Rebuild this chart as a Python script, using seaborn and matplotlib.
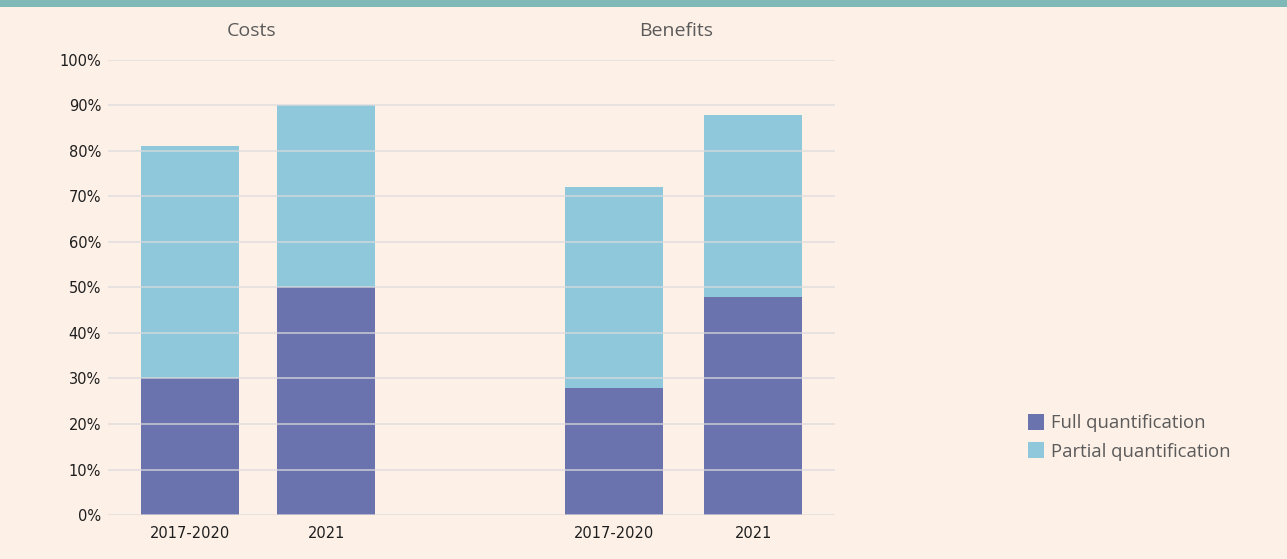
import matplotlib
matplotlib.use("Agg")
import matplotlib.pyplot as plt
from matplotlib.patches import Patch, Rectangle
import seaborn as sns
import pandas as pd

# Share of impact assessments quantifying costs / benefits
groups = ["Costs", "Costs", "Benefits", "Benefits"]
periods = ["2017-2020", "2021", "2017-2020", "2021"]
full_quant = [30, 50, 28, 48]
partial_quant = [51, 40, 44, 40]
y_ticks = [0, 10, 20, 30, 40, 50, 60, 70, 80, 90, 100]
series_names = ["Full quantification", "Partial quantification"]

# bar centres along the x axis, with an empty gap between the two groups
slot = [0, 0.965, 3, 3.985]

BG = "#fdf0e7"
FULL_C = "#6a73ad"
PART_C = "#8ec8da"
GRID_C = "#dcdcdc"
TEXT_C = "#5b5b5b"

df = pd.DataFrame({
    "group": groups,
    "period": periods,
    "slot": slot,
    "full": full_quant,
    "partial": partial_quant,
})
df["total"] = df["full"] + df["partial"]

sns.set_theme(style="white")
plt.rcParams["font.family"] = ["DejaVu Sans"]

fig = plt.figure(figsize=(12.87, 5.59), dpi=100, facecolor=BG)
ax = fig.add_axes([0.0839, 0.0787, 0.5649, 0.814])
ax.set_facecolor(BG)

# stacked bars: full height in the partial colour, full share drawn over it
bar_kw = dict(native_scale=True, width=0.718, saturation=1, ax=ax,
              linewidth=0, edgecolor="none")
sns.barplot(data=df, x="slot", y="total", color=PART_C, zorder=2, **bar_kw)
sns.barplot(data=df, x="slot", y="full", color=FULL_C, zorder=3, **bar_kw)

ax.set_xlim(-0.580, 4.564)
ax.set_ylim(0, 100)
ax.set_yticks(y_ticks)
ax.set_yticklabels([f"{v}%" for v in y_ticks], fontsize=10.5, color="#1e1e1e")
ax.set_xticks(df["slot"])
ax.set_xticklabels(df["period"], fontsize=10.5, color="#1e1e1e")
ax.tick_params(axis="both", length=0)
ax.tick_params(axis="y", pad=5)
ax.tick_params(axis="x", pad=8)
ax.set_xlabel("")
ax.set_ylabel("")
for s in ax.spines.values():
    s.set_visible(False)

# horizontal gridlines drawn across the bars
for v in y_ticks:
    ax.axhline(v, color=GRID_C, lw=1.1, alpha=0.85, zorder=4)

# group headings
for g in ["Costs", "Benefits"]:
    xs = df.loc[df["group"] == g, "slot"]
    ax.text(xs.mean() - 0.05, 1.045, g, transform=ax.get_xaxis_transform(),
            ha="center", va="bottom", fontsize=14, color=TEXT_C,
            family=["Open Sans", "DejaVu Sans"])

handles = [Patch(facecolor=FULL_C, edgecolor="none"),
           Patch(facecolor=PART_C, edgecolor="none")]
fig.legend(handles, series_names, loc="center left",
           bbox_to_anchor=(0.786, 0.218), frameon=False,
           labelcolor=TEXT_C, handlelength=0.85, handleheight=0.95,
           handletextpad=0.4, labelspacing=0.55,
           prop={"family": ["Open Sans", "DejaVu Sans"], "size": 13.3})

# teal band along the top edge
fig.patches.append(Rectangle((0, 1 - 7 / 559), 1, 7 / 559,
                             transform=fig.transFigure, facecolor="#7fb8b6",
                             edgecolor="none", zorder=10))

fig.savefig("out.png", dpi=100, facecolor=BG)
